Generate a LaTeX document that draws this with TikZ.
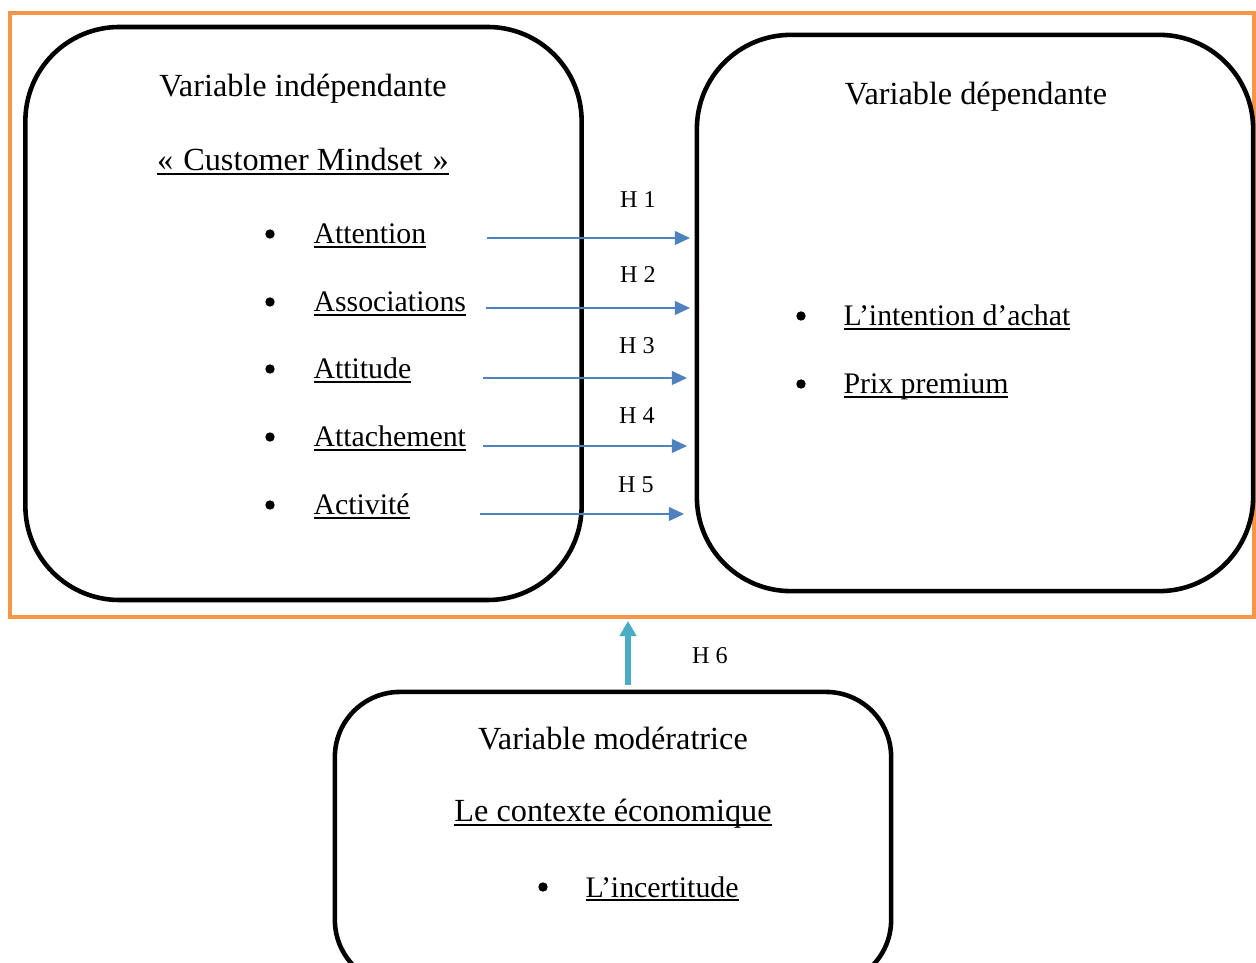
\documentclass[tikz,border=0pt]{standalone}
\usepackage{fontspec}
\setmainfont{Liberation Serif}
\usetikzlibrary{arrows.meta,positioning}
\definecolor{hblue}{HTML}{4F81BD}
\definecolor{hteal}{HTML}{4BACC6}
\definecolor{frameorange}{HTML}{F79646}
\newcommand\undl[1]{\setbox0\hbox{#1}\rlap{\rule[-1.6pt]{\wd0}{0.65pt}}\box0}

\begin{document}
\begin{tikzpicture}[
    x=0.3937pt, y=-0.3937pt,
    box/.style={draw, line width=1.8pt, rounded corners=37pt, minimum width=219pt, minimum height=219pt},
    frame/.style={draw=frameorange, line width=1.6pt, minimum width=489.8pt, minimum height=237.8pt},
    title/.style={anchor=base, inner sep=0pt, font=\fontsize{12.7}{15}\selectfont},
    item/.style={anchor=base west, inner sep=0pt, font=\fontsize{11.75}{14}\selectfont},
    dot/.style={circle, fill, inner sep=0pt, minimum size=3.7pt},
    hlab/.style={anchor=base, inner sep=0pt, font=\fontsize{9.5}{11}\selectfont},
    link/.style={-{Triangle[length=6pt, width=5.5pt]}, hblue, line width=0.6pt},
    uplink/.style={-{Triangle[length=6pt, width=6.5pt]}, hteal, line width=2.4pt}
]
\useasboundingbox (0,0) rectangle (1256,963);
\clip (0,0) rectangle (1256,963);
% cadre du modele
\node[frame] (cadre) at (632,315) {};
% variable independante
\node[box, minimum height=225.6pt] (indep) at (303.5,313.5) {};
\node[title] (indepT) at (303,97) {Variable indépendante};
\node[title] (mindset) at (303,171) {\undl{«\hspace{0.8pt} Customer Mindset\hspace{0.8pt} »}};
\node[dot] (d1) at (270,234) {};
\node[item] (attention) at (313,244) {\undl{Attention}};
\node[dot] (d2) at (270,302) {};
\node[item] (associations) at (313,312) {\undl{Associations}};
\node[dot] (d3) at (270,369) {};
\node[item] (attitude) at (313,379) {\undl{Attitude}};
\node[dot] (d4) at (270,437) {};
\node[item] (attachement) at (313,447) {\undl{Attachement}};
\node[dot] (d5) at (270,505) {};
\node[item] (activite) at (313,515) {\undl{Activité}};
% variable dependante
\node[box] (dep) at (975,313) {};
\node[title] (depT) at (976,105) {Variable dépendante};
\node[dot] (d6) at (801,316) {};
\node[item] (intention) at (843,326) {\undl{L’intention d’achat}};
\node[dot] (d7) at (801,384) {};
\node[item] (prix) at (843,394) {\undl{Prix premium}};
% variable moderatrice
\node[box, minimum height=115.4pt, rounded corners=25.6pt] (mod) at (613,838.5) {};
\node[title] (modT) at (613,750) {Variable modératrice};
\node[title] (contexte) at (613,822) {\undl{Le contexte économique}};
\node[dot] (d8) at (543,887) {};
\node[item] (incertitude) at (585,897) {\undl{L’incertitude}};
% hypotheses
\coordinate (s1) at (487,238); \coordinate (e1) at (690,238);
\coordinate (s2) at (486,308); \coordinate (e2) at (690,308);
\coordinate (s3) at (483,378); \coordinate (e3) at (687,378);
\coordinate (s4) at (483,446); \coordinate (e4) at (687,446);
\coordinate (s5) at (480,514); \coordinate (e5) at (684,514);
\draw[link] (s1) -- (e1);
\draw[link] (s2) -- (e2);
\draw[link] (s3) -- (e3);
\draw[link] (s4) -- (e4);
\draw[link] (s5) -- (e5);
\node[hlab] (h1) at (638,208) {H 1};
\node[hlab] (h2) at (638,283) {H 2};
\node[hlab] (h3) at (637,354) {H 3};
\node[hlab] (h4) at (637,424) {H 4};
\node[hlab] (h5) at (636,493) {H 5};
\coordinate (s6) at (628,685); \coordinate (e6) at (628,621);
\draw[uplink] (s6) -- (e6);
\node[hlab] (h6) at (710,664) {H 6};
\end{tikzpicture}
\end{document}
